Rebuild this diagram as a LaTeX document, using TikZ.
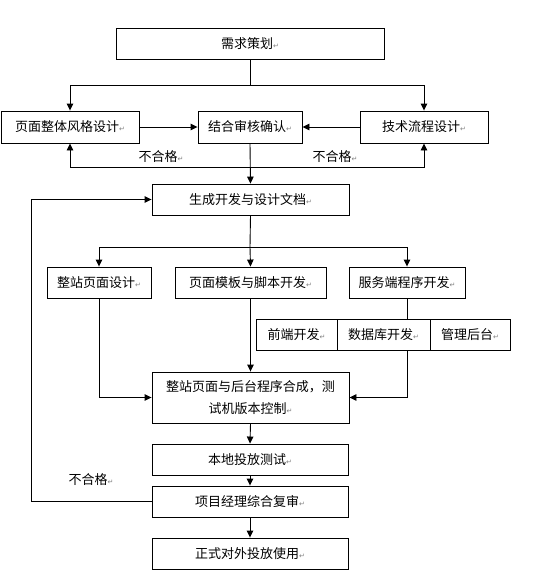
\documentclass[tikz,border=0pt]{standalone}
\usepackage{fontspec}
\usetikzlibrary{arrows.meta}
\newfontfamily\cjk{Noto Sans CJK SC}
\newfontfamily\retfont{DejaVu Sans}
\newcommand\retmark{{\retfont\fontsize{7}{7}\selectfont\color{gray}↵}}
\tikzset{
  box/.style={draw=black, line width=0.9pt, rectangle, inner sep=0pt, minimum height=31pt,
    font=\cjk\fontsize{13}{16}\selectfont, align=center},
  conn/.style={draw=black, line width=0.9pt},
  arr/.style={conn, -{Triangle[length=7pt,width=6.5pt]}},
  lbl/.style={font=\cjk\fontsize{13}{16}\selectfont, inner sep=0pt}
}
\begin{document}
\begin{tikzpicture}[x=1pt,y=-1pt]
\useasboundingbox (0,0) rectangle (540,582);
\node[box, minimum width=268pt] (req) at (250,43.5) {需求策划\retmark};
\node[box, minimum width=138pt, minimum height=32pt] (style) at (70,127) {页面整体风格设计\retmark};
\node[box, minimum width=104pt, minimum height=32pt] (review) at (250,127) {结合审核确认\retmark};
\node[box, minimum width=128pt, minimum height=32pt] (tech) at (424,127) {技术流程设计\retmark};
\node[box, minimum width=197pt] (doc) at (250.5,199.5) {生成开发与设计文档\retmark};
\node[box, minimum width=104pt] (site) at (99,282.5) {整站页面设计\retmark};
\node[box, minimum width=151pt] (tmpl) at (250.5,282.5) {页面模板与脚本开发\retmark};
\node[box, minimum width=116pt] (server) at (407,282.5) {服务端程序开发\retmark};
\node[box, minimum width=81pt] (front) at (296.5,334.5) {前端开发\retmark};
\node[box, minimum width=93pt] (db) at (383.5,334.5) {数据库开发\retmark};
\node[box, minimum width=80pt] (admin) at (470,334.5) {管理后台\retmark};
\node[box, minimum width=197pt, minimum height=51pt, font=\cjk\fontsize{13}{22}\selectfont] (merge) at (250.5,397.5) {整站页面与后台程序合成，测\\试机版本控制\retmark};
\node[box, minimum width=196pt] (local) at (250,459.5) {本地投放测试\retmark};
\node[box, minimum width=196pt] (pm) at (250,501.5) {项目经理综合复审\retmark};
\node[box, minimum width=196pt] (final) at (250,553.5) {正式对外投放使用\retmark};
% labels
\node[lbl] (fail1) at (161,157) {不合格\retmark};
\node[lbl] (fail2) at (335,157) {不合格\retmark};
\node[lbl] (fail3) at (91,480) {不合格\retmark};
% connectors
\coordinate (split1) at (250,85);
\draw[conn] (req.south) -- (split1);
\draw[arr] (split1) -| (style.north);
\draw[arr] (split1) -| (tech.north);
\draw[arr] (style.east) -- (review.west);
\draw[arr] (tech.west) -- (review.east);
\coordinate (split2) at (250,167);
\draw[arr] (review.south) -- (doc.north);
\draw[arr] (split2) -| (style.south);
\draw[arr] (split2) -| (tech.south);
\coordinate (split3) at (250,247);
\draw[conn] (doc.south) -- (split3);
\draw[arr] (split3) -| (site.north);
\draw[arr] (split3) -- (tmpl.north);
\draw[arr] (split3) -| (server.north);
\draw[conn] (server.south) -- (server.south |- db.north);
\draw[arr] (server.south |- db.south) |- (merge.east);
\draw[arr] (site.south) |- (merge.west);
\draw[arr] (tmpl.south) -- (merge.north);
\draw[arr] (merge.south) -- (local.north);
\draw[arr] (local.south) -- (pm.north);
\draw[arr] (pm.south) -- (final.north);
\draw[arr] (pm.west) -- ++(-120,0) |- (doc.west);
\end{tikzpicture}
\end{document}
